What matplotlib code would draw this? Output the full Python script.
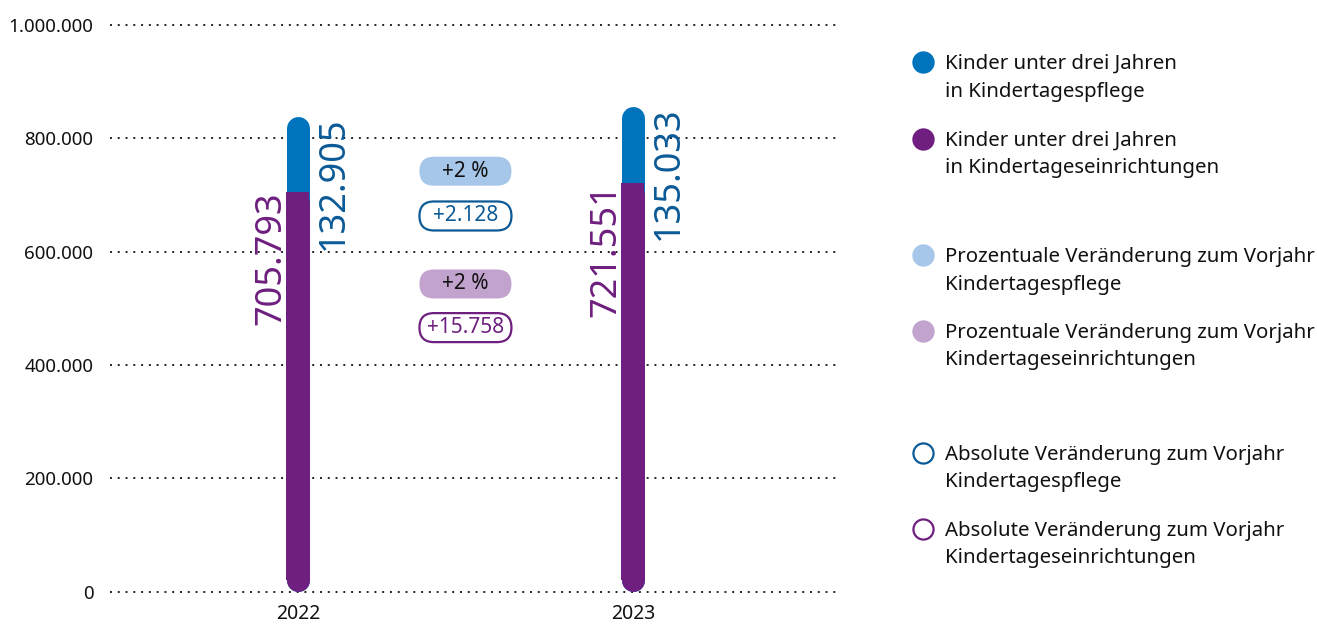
import matplotlib
matplotlib.use("Agg")
import matplotlib.pyplot as plt
import matplotlib.patches as patches
import matplotlib.transforms as mtransforms
from matplotlib.lines import Line2D

# ---------------------------------------------------------------------------
# Data
# ---------------------------------------------------------------------------
years = ["2022", "2023"]
kita = [705793, 721551]          # Kinder unter drei Jahren in Kindertageseinrichtungen
pflege = [132905, 135033]        # Kinder unter drei Jahren in Kindertagespflege
y_ticks = [0, 200000, 400000, 600000, 800000, 1000000]

legend_labels = [
    "Kinder unter drei Jahren\nin Kindertagespflege",
    "Kinder unter drei Jahren\nin Kindertageseinrichtungen",
    "Prozentuale Veränderung zum Vorjahr\nKindertagespflege",
    "Prozentuale Veränderung zum Vorjahr\nKindertageseinrichtungen",
    "Absolute Veränderung zum Vorjahr\nKindertagespflege",
    "Absolute Veränderung zum Vorjahr\nKindertageseinrichtungen",
]

# colours
BLUE = "#0073bd"
BLUE_TXT = "#0b5a96"
PURPLE = "#6e1f7f"
LIGHT_BLUE = "#a6c7e9"
LIGHT_PURPLE = "#c1a3ce"
TXT = "#111111"

plt.rcParams["font.family"] = ["Noto Sans", "DejaVu Sans"]


def de(v):
    return f"{v:,}".replace(",", ".")


# ---------------------------------------------------------------------------
# Figure / axes geometry (pixels)
# ---------------------------------------------------------------------------
FW, FH, DPI = 1317, 626, 100
fig = plt.figure(figsize=(FW / DPI, FH / DPI), dpi=DPI)

ax_l, ax_r, ax_b, ax_t = 110, 840, 591.7, 25
ax = fig.add_axes([ax_l / FW, 1 - ax_b / FH, (ax_r - ax_l) / FW, (ax_b - ax_t) / FH])
x_pos = [0, 1]
xlim = (-0.561, 1.618)
ax.set_xlim(*xlim)
ax.set_ylim(0, 1000000)

for s in ax.spines.values():
    s.set_visible(False)

ax.set_yticks(y_ticks)
ax.set_yticklabels([de(v) for v in y_ticks], fontsize=13.5, color=TXT)
ax.set_xticks(x_pos)
ax.set_xticklabels(years, fontsize=14, color=TXT)
ax.tick_params(axis="y", length=0, pad=12)
ax.tick_params(axis="x", length=0, pad=9)

ax.hlines(y_ticks, xlim[0], xlim[1], colors="#222222", linewidth=1.4,
          linestyles=(0, (1, 3)), zorder=0, clip_on=False)

# ---------------------------------------------------------------------------
# Rounded stacked bars
# ---------------------------------------------------------------------------
BAR_PX = 23
ax_w_px = ax_r - ax_l
ax_h_px = ax_b - ax_t
px_x = (xlim[1] - xlim[0]) / ax_w_px
bar_w = BAR_PX * px_x
cap = (BAR_PX / 2) / ax_h_px * 1000000
lw_pt = BAR_PX * 72 / DPI

for x, k, p in zip(x_pos, kita, pflege):
    total = k + p
    ax.plot([x, x], [cap, total - cap], color=BLUE, lw=lw_pt,
            solid_capstyle="round", zorder=2, clip_on=False)
    ax.plot([x, x], [cap, k - cap], color=PURPLE, lw=lw_pt,
            solid_capstyle="round", zorder=3, clip_on=False)
    ax.bar(x, k - cap, bottom=cap, width=bar_w, color=PURPLE, zorder=3,
           linewidth=0)

    ax.text(x - 9 * px_x, k, de(k), rotation=90, ha="right", va="top",
            color=PURPLE, fontsize=26, zorder=4)
    ax.text(x + 18 * px_x, total, de(p), rotation=90, ha="left", va="top",
            color=BLUE_TXT, fontsize=26, zorder=4)

# ---------------------------------------------------------------------------
# Change pills between the bars
# ---------------------------------------------------------------------------
abs_pflege = pflege[1] - pflege[0]
abs_kita = kita[1] - kita[0]
pct_pflege = round(abs_pflege / pflege[0] * 100)
pct_kita = round(abs_kita / kita[0] * 100)

pills = [
    (742000, f"+{pct_pflege} %", LIGHT_BLUE, None, TXT),
    (663000, f"+{de(abs_pflege)}", "white", BLUE_TXT, BLUE_TXT),
    (543000, f"+{pct_kita} %", LIGHT_PURPLE, None, TXT),
    (466000, f"+{de(abs_kita)}", "white", PURPLE, PURPLE),
]
PILL_W, PILL_H = 92, 29
for yv, label, fc, ec, tc in pills:
    cx, cy = ax.transData.transform((0.5, yv))
    pill = patches.FancyBboxPatch(
        (cx - PILL_W / 2, cy - PILL_H / 2), PILL_W, PILL_H,
        boxstyle=f"round,pad=0,rounding_size={PILL_H / 2}",
        facecolor=fc, edgecolor=ec if ec else "none", linewidth=1.6,
        transform=mtransforms.IdentityTransform(), zorder=3)
    ax.add_patch(pill)
    ax.text(0.5, yv, label, ha="center", va="center", fontsize=15,
            color=tc, zorder=5)

# ---------------------------------------------------------------------------
# Legend (manual)
# ---------------------------------------------------------------------------
leg_y = [62, 139, 255, 331, 453, 529]
leg_style = [
    (BLUE, BLUE),
    (PURPLE, PURPLE),
    (LIGHT_BLUE, LIGHT_BLUE),
    (LIGHT_PURPLE, LIGHT_PURPLE),
    ("white", BLUE_TXT),
    ("white", PURPLE),
]
for yy, lab, (fc, ec) in zip(leg_y, legend_labels, leg_style):
    fy = 1 - yy / FH
    fig.add_artist(Line2D([923 / FW], [fy], marker="o", markersize=14.5,
                          markerfacecolor=fc, markeredgecolor=ec,
                          markeredgewidth=1.6, linestyle="none",
                          transform=fig.transFigure))
    fig.text(945 / FW, 1 - (yy - 8) / FH, lab, ha="left", va="top",
             fontsize=14.7, color=TXT, linespacing=1.5)

fig.savefig("out.png", dpi=DPI)
